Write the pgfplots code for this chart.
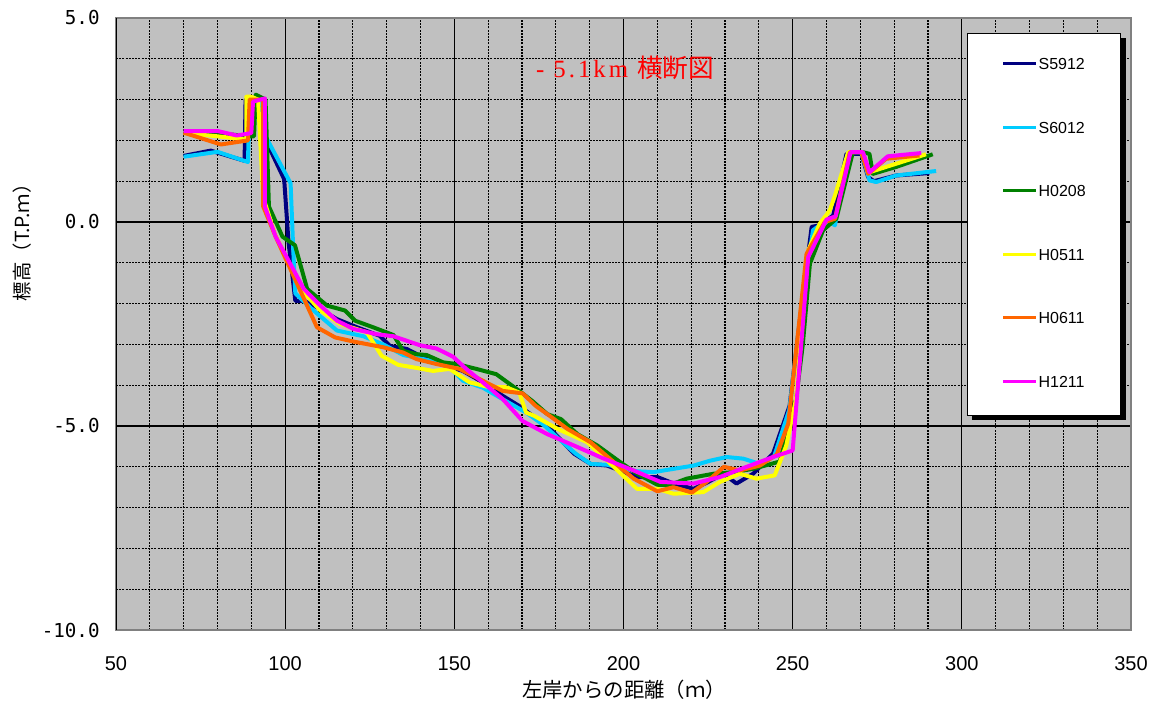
\documentclass[border=0pt]{standalone}
\usepackage{fontspec}
\setmainfont{Liberation Sans}
\newfontfamily\cjk{Noto Sans CJK JP}
\newfontfamily\monof{DejaVu Sans Mono}
\newfontfamily\serifL[LetterSpace=12]{Liberation Serif}
\usepackage{pgfplots}
\pgfplotsset{compat=1.18}
\definecolor{bgray}{RGB}{192,192,192}
\definecolor{framegray}{RGB}{128,128,128}
\definecolor{cnavy}{RGB}{0,0,128}
\definecolor{ccyan}{RGB}{0,204,255}
\definecolor{cgreen}{RGB}{0,128,0}
\definecolor{cyellow}{RGB}{255,255,0}
\definecolor{corange}{RGB}{255,102,0}
\definecolor{cmagenta}{RGB}{255,0,255}
\begin{document}
\begin{tikzpicture}
\begin{axis}[
  at={(58pt,39.5pt)}, anchor=south west,
  scale only axis, width=507.5pt, height=306pt,
  xmin=50, xmax=350, ymin=-10, ymax=5,
  xtick={50,100,150,200,250,300,350},
  xticklabels={50,100,150,200,250,300,350},
  ytick={-10,-5,0,5},
  yticklabels={-10.0,-5.0,0.0,5.0},
  minor x tick num=4, minor y tick num=4,
  grid=both,
  major grid style={black, line width=0.6pt},
  minor grid style={black, line width=0.6pt, dash pattern=on 1pt off 0.6pt},
  tick style={draw=none},
  axis background/.style={fill=bgray},
  axis line style={draw=framegray, line width=0.7pt},
  xticklabel style={font=\fontsize{10pt}{12pt}\selectfont, inner sep=0pt, yshift=-12.9pt},
  yticklabel style={font=\monof\fontsize{9.6pt}{11pt}\selectfont, inner sep=0pt, xshift=-8pt},
  xlabel={左岸からの距離（ｍ）},
  xlabel style={at={(rel axis cs:0.5005,-0.098)}, anchor=center, font=\cjk\fontsize{10.2pt}{12pt}\selectfont},
  ylabel={標高（T.P.ｍ）},
  ylabel style={at={(rel axis cs:-0.0926,0.641)}, anchor=center, font=\cjk\fontsize{9.7pt}{11pt}\selectfont},
  no markers,
  every axis plot/.append style={line width=2pt, line join=round},
  legend image code/.code={\draw[#1, line width=1.5pt] (0pt,1pt) -- (16.5pt,1pt);},
  legend style={name=leg, at={(rel axis cs:0.8384,0.9755)}, anchor=north west, draw=black, line width=0.6pt, fill=white,
    inner xsep=17pt, inner ysep=0pt, row sep=0pt, font=\fontsize{8pt}{10pt}\selectfont,
    nodes={inner xsep=0.5pt, inner ysep=0pt, minimum height=31.8pt},
    cells={anchor=west}},
]
\addplot[cnavy] coordinates {
(70,1.62)(78,1.75)(88,1.5)(88.3,3.0)(93,3.0)(94,2.05)(99.7,1.05)(101,-0.5)(103,-1.93)(105.5,-1.93)
(109.4,-2.09)(115.3,-2.38)(121.2,-2.58)(128,-2.79)(131,-3.04)(135.9,-3.11)(140.8,-3.32)(145.7,-3.48)
(152.5,-3.65)(158.4,-3.93)(164.3,-4.26)(169.2,-4.51)(178,-5.04)(185.4,-5.68)(190.3,-5.93)(195.2,-5.97)
(204,-6.25)(210,-6.25)(214.8,-6.41)(220.7,-6.54)(224.6,-6.39)(229.5,-6.17)(233.4,-6.41)(238.3,-6.17)
(244.2,-5.68)(249.1,-4.5)(252,-2.5)(255.6,-0.12)(258,-0.08)(262,0.16)(265.9,1.67)(270.3,1.67)
(272.3,1.1)(274,1.0)(280.6,1.14)(290.4,1.2)};
\addlegendentry{S5912}
\addplot[ccyan] coordinates {
(70,1.6)(80,1.72)(89,1.47)(89.5,3.0)(93,3.0)(94.2,2.1)(101.6,0.95)(102.4,-0.7)(103,-1.75)(108.4,-2.17)
(115.3,-2.66)(123.1,-2.8)(129,-3.0)(134.9,-3.26)(140.8,-3.36)(147.6,-3.48)(152.5,-3.89)(158.4,-4.06)
(165.3,-4.39)(171.2,-4.67)(176.6,-4.99)(181.5,-5.36)(185.9,-5.68)(190.3,-5.93)(195.2,-5.95)(204,-6.11)
(208.9,-6.13)(214.8,-6.05)(220.7,-5.97)(225.6,-5.85)(230.5,-5.76)(235.4,-5.8)(240.3,-5.93)(244.5,-5.75)
(249,-4.6)(252,-2.5)(256,-0.2)(260,0.04)(262.5,-0.08)(266.4,1.71)(270.3,1.71)(272.7,1.02)(274.7,0.98)
(280.6,1.14)(292.4,1.25)};
\addlegendentry{S6012}
\addplot[cgreen] coordinates {
(70,2.22)(80,2.18)(89.3,2.1)(90.8,2.1)(91.3,3.12)(94.2,3.0)(95.2,0.38)(99.2,-0.36)(102.9,-0.57)(106.5,-1.64)
(112.4,-2.05)(117.7,-2.17)(120.7,-2.42)(126,-2.58)(132,-2.77)(134.9,-3.16)(138.8,-3.24)(141.8,-3.26)
(146.7,-3.44)(150.6,-3.48)(156.5,-3.6)(162.4,-3.73)(169.2,-4.14)(173.1,-4.39)(177.5,-4.71)(181.5,-4.83)
(186.4,-5.2)(192.3,-5.48)(199.1,-5.89)(204,-6.17)(210,-6.44)(213.8,-6.44)(218.7,-6.29)(226.6,-6.17)
(232.5,-6.13)(238.3,-6.05)(246.2,-5.87)(251,-4.34)(253,-3.0)(255.1,-1.02)(259,-0.2)(262.9,0.08)
(267.8,1.71)(270.8,1.71)(272.7,1.67)(273.7,1.18)(280.6,1.35)(291.4,1.66)};
\addlegendentry{H0208}
\addplot[cyellow] coordinates {
(70,2.18)(80,2.1)(88.5,2.02)(88.5,3.07)(90,3.07)(92,3.0)(93.5,0.6)(97,-0.3)(101,-1.0)(105.5,-1.72)
(110.4,-2.17)(116.3,-2.5)(124.1,-2.7)(128.5,-3.28)(133.4,-3.5)(139.8,-3.59)(143.7,-3.65)(148.6,-3.6)
(154.5,-3.93)(160.4,-4.05)(165.3,-4.05)(169.2,-4.18)(171.2,-4.67)(173.6,-4.75)(180.5,-5.07)(189.3,-5.4)
(195.2,-5.85)(204,-6.54)(210,-6.54)(214.8,-6.66)(223.6,-6.62)(228.5,-6.37)(234.4,-6.17)(239.3,-6.29)
(244.7,-6.21)(248.1,-5.48)(251,-4.34)(254.6,-0.69)(258,-0.04)(261,0.29)(262.5,0.65)(266.4,1.71)
(270.3,1.71)(272.7,1.22)(277.6,1.35)(289.4,1.66)};
\addlegendentry{H0511}
\addplot[corange] coordinates {
(70,2.19)(81,1.9)(89,2.0)(89.5,3.0)(93.5,3.0)(93.5,0.38)(97.2,-0.36)(99,-0.69)(109.4,-2.58)(114.8,-2.83)
(120.2,-2.93)(129,-3.07)(134.9,-3.2)(138.8,-3.36)(144.7,-3.48)(151.5,-3.6)(158.4,-3.89)(164.3,-4.14)
(170.2,-4.2)(174.1,-4.51)(177.5,-4.71)(183.4,-5.07)(190.3,-5.4)(197.2,-5.89)(203,-6.29)(210,-6.6)
(214.8,-6.5)(220.2,-6.63)(224.6,-6.37)(229.7,-6.0)(234.4,-6.09)(240.3,-5.97)(245.3,-5.7)(248.7,-4.94)
(254.1,-0.78)(259.5,0.0)(262.5,0.08)(266.9,1.71)(270.3,1.71)(272.3,1.18)(277.6,1.55)(287.5,1.63)};
\addlegendentry{H0611}
\addplot[cmagenta] coordinates {
(70,2.23)(80,2.23)(85.7,2.12)(90,2.18)(90.5,2.95)(94,3.03)(94,0.38)(97.2,-0.36)(105.5,-1.64)(110.4,-2.05)
(115.3,-2.42)(120.2,-2.62)(127,-2.75)(132,-2.8)(139.8,-3.02)(144.7,-3.1)(149.6,-3.3)(153.5,-3.6)
(158.4,-3.93)(164.3,-4.34)(170.2,-4.88)(177.5,-5.2)(185.4,-5.48)(194.2,-5.8)(203,-6.09)(210.9,-6.37)
(220.7,-6.41)(228.5,-6.25)(236.4,-6.0)(244.2,-5.76)(250,-5.6)(254.6,-0.86)(260,0.06)(262.7,0.14)
(267.1,1.71)(270.8,1.71)(272.7,1.22)(278.1,1.61)(288,1.69)};
\addlegendentry{H1211}
\draw[black, line width=0.9pt] (rel axis cs:0,0) -- (rel axis cs:0,1);
\node[text=red, anchor=center] at (rel axis cs:0.5015,0.919)
  {\fontsize{12.4pt}{14pt}\selectfont\serifL - 5.1km\ \cjk\fontsize{12.8pt}{14pt}\selectfont 横断図};
\end{axis}
\fill[black] ([yshift=-2.3pt]leg.north east) rectangle ([xshift=2.3pt,yshift=-2.3pt]leg.south east);
\fill[black] ([xshift=2.3pt]leg.south west) rectangle ([xshift=2.3pt,yshift=-2.3pt]leg.south east);
\pgfresetboundingbox
\path (0,0) rectangle (582.5pt,354.5pt);
\end{tikzpicture}
\end{document}
